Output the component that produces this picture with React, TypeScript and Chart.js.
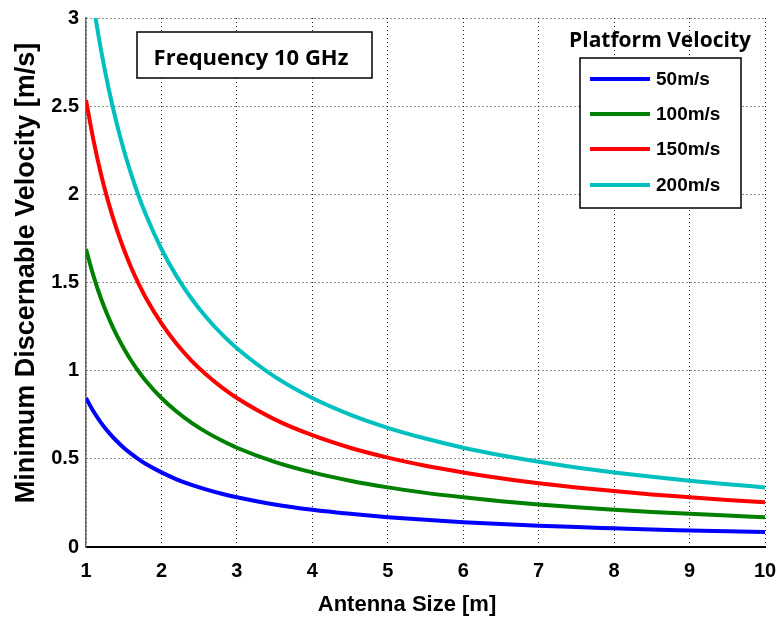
import React, { useEffect, useRef } from "react";
import { Chart, registerables } from "chart.js";

Chart.register(...registerables);

const antennaSize = [1, 1.1, 1.2, 1.3, 1.4, 1.5, 1.6, 1.7, 1.8, 2, 2.2, 2.4, 2.6, 2.8, 3, 3.5, 4, 4.5, 5, 5.5, 6, 6.5, 7, 7.5, 8, 8.5, 9, 9.5, 10];

const v50 = [0.845, 0.768, 0.704, 0.65, 0.604, 0.563, 0.528, 0.497, 0.469, 0.423, 0.384, 0.352, 0.325, 0.302, 0.282, 0.241, 0.211, 0.188, 0.169, 0.154, 0.141, 0.13, 0.121, 0.113, 0.106, 0.099, 0.094, 0.089, 0.085];
const v100 = [1.69, 1.536, 1.408, 1.3, 1.207, 1.127, 1.056, 0.994, 0.939, 0.845, 0.768, 0.704, 0.65, 0.604, 0.563, 0.483, 0.423, 0.376, 0.338, 0.307, 0.282, 0.26, 0.241, 0.225, 0.211, 0.199, 0.188, 0.178, 0.169];
const v150 = [2.535, 2.305, 2.113, 1.95, 1.811, 1.69, 1.584, 1.491, 1.408, 1.268, 1.152, 1.056, 0.975, 0.905, 0.845, 0.724, 0.634, 0.563, 0.507, 0.461, 0.423, 0.39, 0.362, 0.338, 0.317, 0.298, 0.282, 0.267, 0.254];
const v200 = [3.38, 3.073, 2.817, 2.6, 2.414, 2.253, 2.113, 1.988, 1.878, 1.69, 1.536, 1.408, 1.3, 1.207, 1.127, 0.966, 0.845, 0.751, 0.676, 0.615, 0.563, 0.52, 0.483, 0.451, 0.423, 0.398, 0.376, 0.356, 0.338];

const seriesLabels = ["50m/s", "100m/s", "150m/s", "200m/s"];
const seriesColors = ["#0000ff", "#008000", "#ff0000", "#00bfbf"];
const yTickLabels = ["0", "0.5", "1", "1.5", "2", "2.5", "3"];
const xTickLabels = ["1", "2", "3", "4", "5", "6", "7", "8", "9", "10"];

const annotationText = "Frequency 10 GHz";
const legendTitle = "Platform Velocity";
const xTitle = "Antenna Size [m]";
const yTitle = "Minimum Discernable Velocity [m/s]";

const overlayPlugin = {
  id: "overlay",
  afterDraw(chart: any) {
    const ctx = chart.ctx as CanvasRenderingContext2D;
    ctx.save();
    // Axis titles
    ctx.fillStyle = "#000000";
    ctx.textAlign = "center";
    ctx.textBaseline = "middle";
    ctx.font = "bold 22px 'Liberation Sans'";
    ctx.fillText(xTitle, 407, 605);
    ctx.save();
    ctx.translate(27, 273);
    ctx.rotate(-Math.PI / 2);
    ctx.font = "bold 27px 'Liberation Sans'";
    ctx.fillText(yTitle, 0, 0);
    ctx.restore();

    // Frequency box
    ctx.fillStyle = "#ffffff";
    ctx.fillRect(137, 32, 235, 46);
    ctx.strokeStyle = "#000000";
    ctx.lineWidth = 1.5;
    ctx.strokeRect(137, 32, 235, 46);
    ctx.fillStyle = "#000000";
    ctx.font = "bold 22px 'Open Sans'";
    ctx.textAlign = "center";
    ctx.textBaseline = "alphabetic";
    ctx.fillText(annotationText, 251, 65);

    // Legend title
    ctx.font = "bold 21px 'Open Sans'";
    ctx.fillText(legendTitle, 660, 47);

    // Legend box
    ctx.fillStyle = "#ffffff";
    ctx.fillRect(580, 58, 161, 150);
    ctx.strokeStyle = "#000000";
    ctx.lineWidth = 1.5;
    ctx.strokeRect(580, 58, 161, 150);

    const rows = [79, 114, 149, 185];
    chart.data.datasets.forEach((ds: any, i: number) => {
      const y = rows[i];
      ctx.strokeStyle = ds.borderColor;
      ctx.lineWidth = 4;
      ctx.beginPath();
      ctx.moveTo(590, y);
      ctx.lineTo(650, y);
      ctx.stroke();
      ctx.fillStyle = "#000000";
      ctx.font = "bold 19px 'Liberation Sans'";
      ctx.textAlign = "left";
      ctx.textBaseline = "middle";
      ctx.fillText(ds.label, 656, y + 1);
    });
    ctx.restore();
  },
};

export default function App() {
  const canvasRef = useRef<HTMLCanvasElement | null>(null);

  useEffect(() => {
    const canvas = canvasRef.current;
    if (!canvas) return;
    const series = [v50, v100, v150, v200];
    const chart = new Chart(canvas, {
      type: "line",
      data: {
        datasets: series.map((vals, i) => ({
          label: seriesLabels[i],
          data: antennaSize.map((x, j) => ({ x, y: vals[j] })),
          borderColor: seriesColors[i],
          backgroundColor: seriesColors[i],
          borderWidth: 4,
          pointRadius: 0,
          fill: false,
          cubicInterpolationMode: "monotone" as const,
          clip: 0,
        })),
      },
      options: {
        responsive: false,
        animation: false,
        devicePixelRatio: 1,
        layout: { padding: { left: 0, top: 18, right: 13, bottom: 0 }, autoPadding: false },
        plugins: { legend: { display: false }, tooltip: { enabled: false }, title: { display: false } },
        scales: {
          x: {
            type: "linear",
            min: 1,
            max: 10,
            afterFit(scale: any) {
              scale.height = 75;
              scale.paddingLeft = 0;
              scale.paddingRight = 0;
            },
            ticks: {
              stepSize: 1,
              padding: 12,
              color: "#000",
              font: { family: "'Liberation Sans'", size: 20, weight: "bold" },
              callback: (v: any) => xTickLabels[Math.round(Number(v)) - 1] ?? "",
              maxRotation: 0,
              autoSkip: false,
            },
            grid: { color: "#222", lineWidth: 1, drawTicks: false },
            border: { display: true, color: "#000", width: 2, dash: [1, 3] },
            title: { display: false },
          },
          y: {
            type: "linear",
            min: 0,
            max: 3,
            afterFit(scale: any) {
              scale.width = 86;
              scale.paddingTop = 0;
              scale.paddingBottom = 0;
            },
            ticks: {
              stepSize: 0.5,
              padding: 7,
              color: "#000",
              font: { family: "'Liberation Sans'", size: 20, weight: "bold" },
              callback: (v: any) => yTickLabels[Math.round(Number(v) * 2)] ?? "",
            },
            grid: { color: "#222", lineWidth: 1, drawTicks: false },
            border: { display: true, color: "#666", width: 1.5, dash: [1, 3] },
            title: { display: false },
          },
        },
      },
      plugins: [overlayPlugin],
    });
    return () => chart.destroy();
  }, []);

  return (
    <div style={{ position: "absolute", left: 0, top: 0, width: 778, height: 622, background: "#fff" }}>
      <canvas ref={canvasRef} width={778} height={622} style={{ display: "block" }} />
    </div>
  );
}
